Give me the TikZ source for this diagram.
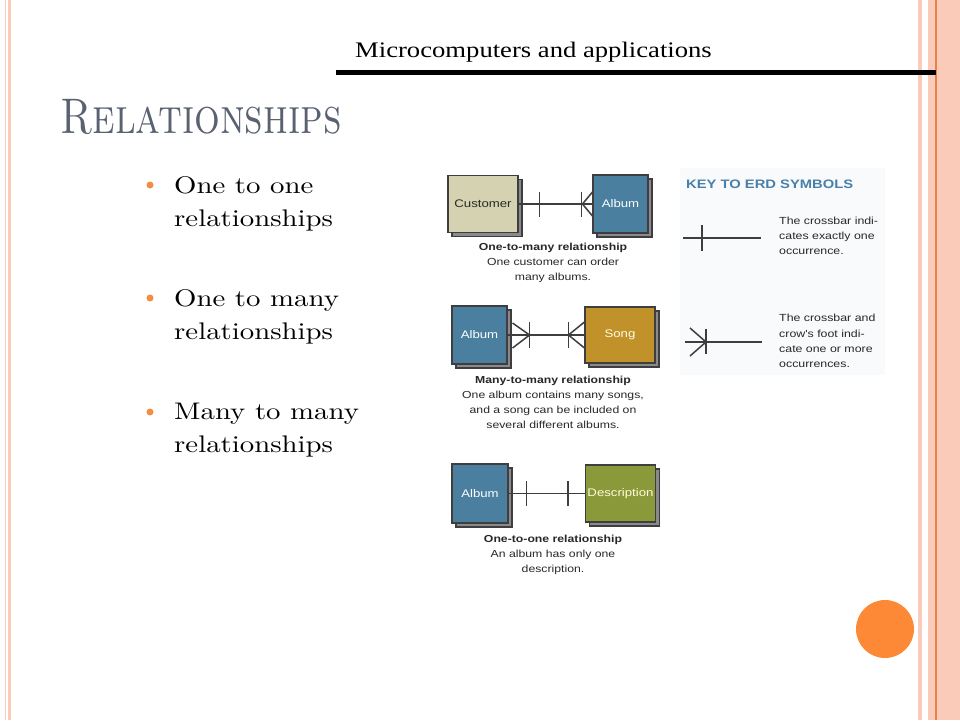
\documentclass[tikz,border=0pt]{standalone}
\usepackage{fontspec}
\usepackage{xcolor}
\usepackage{tikz}
\usetikzlibrary{positioning, calc, shadows}
\definecolor{stripepink}{RGB}{250, 203, 184}
\definecolor{stripeorange}{RGB}{232, 128, 74}
\definecolor{titlegray}{RGB}{90, 98, 114}
\definecolor{bulletorange}{RGB}{245, 140, 70}
\definecolor{erdline}{RGB}{62, 62, 62}
\definecolor{shadowgray}{RGB}{138, 138, 142}
\definecolor{custkhaki}{RGB}{212, 210, 176}
\definecolor{albumblue}{RGB}{74, 127, 160}
\definecolor{songgold}{RGB}{193, 146, 42}
\definecolor{descolive}{RGB}{138, 153, 58}
\definecolor{keyblue}{RGB}{72, 128, 170}
\definecolor{keybg}{RGB}{249, 250, 251}
\definecolor{captext}{RGB}{40, 40, 40}
\definecolor{circleorange}{RGB}{253, 137, 55}
\newfontfamily\arialfont[FakeStretch=1.2]{Liberation Sans}
\newfontfamily\timesfont[FakeStretch=1.2]{Liberation Serif}
\newfontfamily\lmfont[Extension=.otf, FakeStretch=1.2]{lmroman10-regular}
\newfontfamily\lmcaps[Extension=.otf, FakeStretch=0.81]{lmromancaps10-regular}

\tikzset{
    entity/.style={draw=erdline, line width=1.1pt, inner sep=2pt,
        font=\arialfont\fontsize{11}{13}\selectfont,
        copy shadow={shadow xshift=4pt, shadow yshift=-4pt, fill=shadowgray, draw=erdline, line width=1.1pt}},
    erd/.style={draw=erdline, line width=1.5pt},
    caption/.style={align=center, text=captext, font=\arialfont\fontsize{10.2}{15}\selectfont},
    keytext/.style={align=left, anchor=west, inner sep=0pt, text=captext, font=\arialfont\fontsize{10.3}{15.3}\selectfont},
    bullet/.style={circle, fill=bulletorange, inner sep=0pt, minimum size=7pt},
    point/.style={align=left, anchor=north west, inner sep=0pt, font=\lmfont\fontsize{24}{33}\selectfont}
}

\begin{document}
\begin{tikzpicture}[x=1pt, y=1pt]
    \useasboundingbox (0,0) rectangle (960,-720);
    \fill[white] (0,0) rectangle (960,-720);

    % Side stripes
    \fill[stripepink] (5,0) rectangle (6,-720);
    \fill[stripepink] (8,0) rectangle (11,-720);
    \fill[stripepink] (918,0) rectangle (922,-720);
    \fill[stripepink] (928,0) rectangle (960,-720);
    \fill[stripeorange] (935,0) rectangle (936.5,-720);

    % Header
    \node[anchor=base west, inner sep=0pt, font=\timesfont\fontsize{22.2}{26}\selectfont] (header) at (355,-57) {Microcomputers and applications};
    \draw[line width=4.5pt] (336,-72.25) -- (936,-72.25);

    % Title
    \node[anchor=base west, inner sep=0pt, text=titlegray, font=\lmcaps\fontsize{50}{50}\selectfont] (title) at (60,-133) {Relationships};

    % Bullets
    \foreach \i/\y/\txt in {1/193/One to one, 2/306/One to many, 3/420/Many to many} {
        \node[bullet] (dot\i) at (150,-\y+8) {};
        \node[point] (point\i) at (174,-\y+16.6) {\txt\\relationships};
    }

    % One-to-many
    \node[entity, fill=custkhaki, text=captext, minimum width=70pt, minimum height=57pt] (cust) at (483,-204) {Customer};
    \node[entity, fill=albumblue, text=white, minimum width=55pt, minimum height=58pt] (albumA) at (620.5,-204) {Album};
    \draw[erd] (cust.east) -- (albumA.west);
    \draw[erd] ([xshift=21pt]cust.east) ++(0,12.5) -- ++(0,-25);
    \draw[erd] ([xshift=-11pt]albumA.west) ++(0,12.5) -- ++(0,-25);
    \draw[erd] ([yshift=12pt]albumA.west) -- ([xshift=-10pt]albumA.west) -- ([yshift=-12pt]albumA.west);
    \node[caption] (capA) at (553,-263) {{\bfseries One-to-many relationship}\\One customer can order\\many albums.};

    % Many-to-many
    \node[entity, fill=albumblue, text=white, minimum width=55pt, minimum height=58pt] (albumB) at (479.5,-335) {Album};
    \node[entity, fill=songgold, text=white!90!yellow, minimum width=70pt, minimum height=56pt] (song) at (620,-335) {Song};
    \draw[erd] (albumB.east) -- (song.west);
    \draw[erd] ([xshift=22pt]albumB.east) ++(0,13) -- ++(0,-26);
    \draw[erd] ([xshift=5pt, yshift=12pt]albumB.east) -- ([xshift=22pt]albumB.east) -- ([xshift=5pt, yshift=-13pt]albumB.east);
    \draw[erd] ([xshift=-16pt]song.west) ++(0,13) -- ++(0,-26);
    \draw[erd] ([yshift=13pt]song.west) -- ([xshift=-16pt]song.west) -- ([yshift=-13pt]song.west);
    \node[caption] (capB) at (553,-402) {{\bfseries Many-to-many relationship}\\One album contains many songs,\\and a song can be included on\\several different albums.};

    % One-to-one
    \node[entity, fill=albumblue, text=white, minimum width=56pt, minimum height=59pt] (albumC) at (480,-493.5) {Album};
    \node[entity, fill=descolive, text=white!85!yellow, minimum width=69pt, minimum height=57pt] (desc) at (620.5,-493.5) {Description};
    \draw[erd] (albumC.east) -- (desc.west);
    \draw[erd] ([xshift=18pt]albumC.east) ++(0,12.5) -- ++(0,-25);
    \draw[erd] ([xshift=-17pt]desc.west) ++(0,12.5) -- ++(0,-25);
    \node[caption] (capC) at (553,-555) {{\bfseries One-to-one relationship}\\An album has only one\\description.};

    % Key
    \fill[keybg] (680,-168) rectangle (885,-375);
    \node[anchor=west, inner sep=0pt, text=keyblue, font=\arialfont\bfseries\fontsize{12.3}{14}\selectfont] (keyhead) at (686,-184) {KEY TO ERD SYMBOLS};
    \coordinate (oneA) at (683,-238);
    \coordinate (oneB) at (761,-238);
    \draw[erd] (oneA) -- (oneB);
    \draw[erd] ([xshift=19pt]oneA) ++(0,13) -- ++(0,-26);
    \node[keytext] (keyone) at (779,-236) {The crossbar indi-\\cates exactly one\\occurrence.};
    \coordinate (manyA) at (685,-342);
    \coordinate (manyB) at (762,-342);
    \draw[erd] (manyA) -- (manyB);
    \draw[erd] ([xshift=21pt]manyA) ++(0,13.5) -- ++(0,-25);
    \draw[erd] ([xshift=5pt, yshift=14pt]manyA) -- ([xshift=21pt]manyA) -- ([xshift=5pt, yshift=-14pt]manyA);
    \node[keytext] (keymany) at (779,-341) {The crossbar and\\crow's foot indi-\\cate one or more\\occurrences.};

    % Corner circle
    \fill[circleorange] (885,-629) circle (29pt);
\end{tikzpicture}
\end{document}
